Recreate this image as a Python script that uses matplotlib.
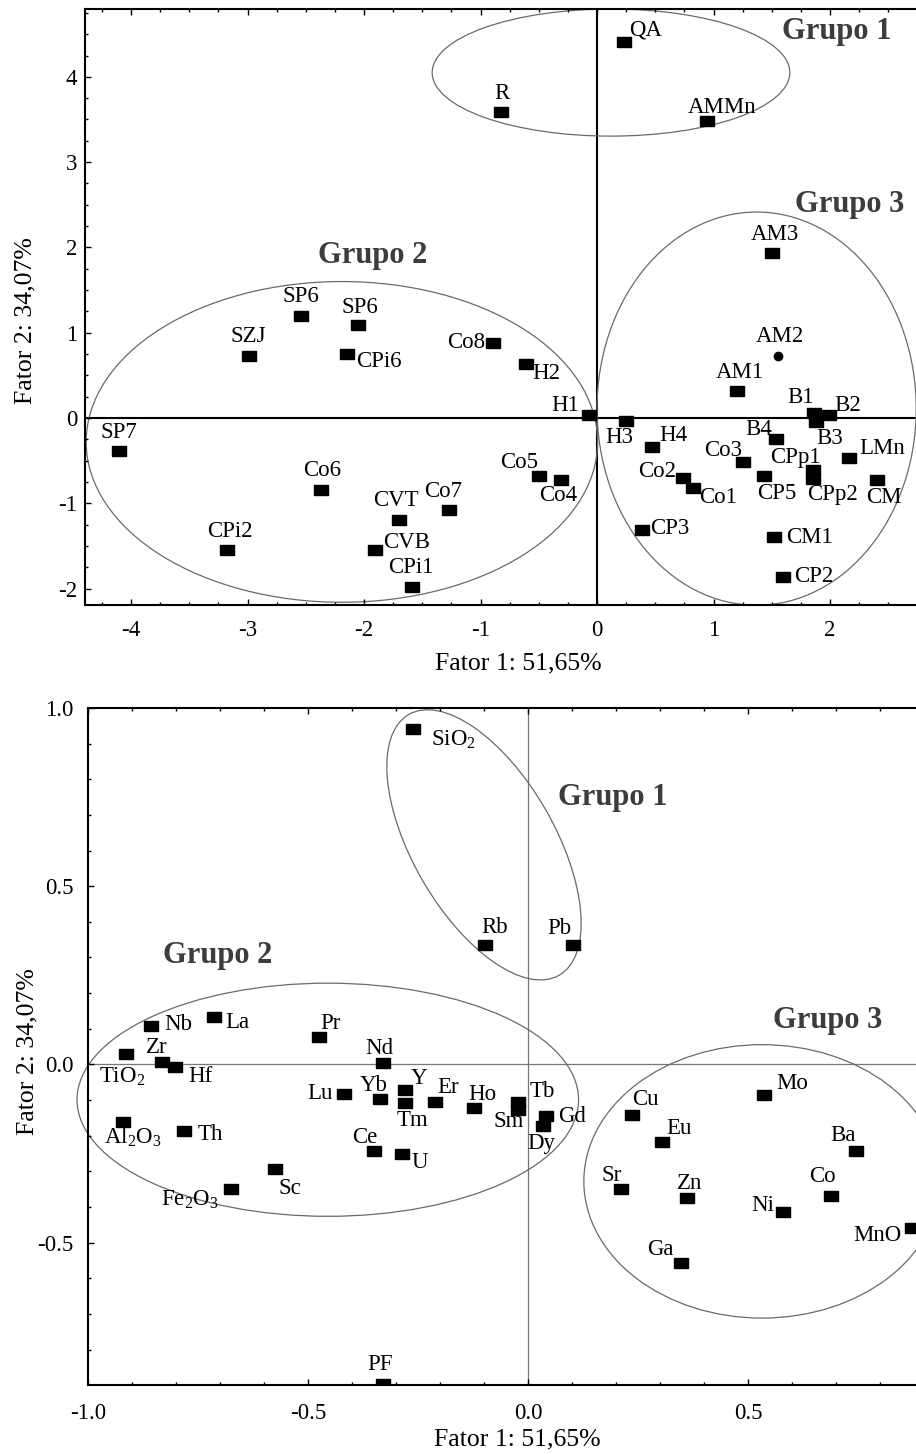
import numpy as np
import matplotlib
matplotlib.use('Agg')
import matplotlib.pyplot as plt
from matplotlib.patches import Ellipse
from matplotlib.path import Path
from matplotlib.ticker import MultipleLocator, FormatStrFormatter
from matplotlib.transforms import ScaledTranslation

plt.rcParams['font.family'] = ['Liberation Serif', 'DejaVu Serif']
plt.rcParams['mathtext.fontset'] = 'custom'
plt.rcParams['mathtext.rm'] = 'Liberation Serif'
plt.rcParams['axes.unicode_minus'] = False

# ---- samples (scores) ----
samp_names = ['QA', 'R', 'AMMn', 'AM3', 'SP6', 'SP6', 'SZJ', 'CPi6', 'Co8', 'H2',
              'AM1', 'H1', 'B1', 'B2', 'SP7', 'H3', 'H4', 'B4', 'B3', 'LMn',
              'Co3', 'CPp1', 'Co2', 'Co5', 'Co4', 'Co6', 'CVT', 'Co7', 'Co1', 'CP5',
              'CPp2', 'CM', 'CPi2', 'CVB', 'CP3', 'CM1', 'CPi1', 'CP2']
samp_f1 = [0.23, -0.82, 0.94, 1.50, -2.54, -2.05, -2.99, -2.15, -0.89, -0.61,
           1.20, -0.07, 1.86, 1.99, -4.10, 0.25, 0.47, 1.54, 1.88, 2.16,
           1.25, 1.85, 0.74, -0.50, -0.31, -2.37, -1.70, -1.27, 0.82, 1.43,
           1.85, 2.40, -3.18, -1.91, 0.39, 1.52, -1.59, 1.60]
samp_f2 = [4.41, 3.59, 3.48, 1.93, 1.20, 1.09, 0.73, 0.75, 0.88, 0.63,
           0.32, 0.04, 0.06, 0.04, -0.39, -0.04, -0.34, -0.25, -0.05, -0.47,
           -0.52, -0.61, -0.70, -0.68, -0.73, -0.84, -1.20, -1.08, -0.82, -0.68,
           -0.72, -0.73, -1.55, -1.55, -1.31, -1.40, -1.98, -1.86]
# sample shown with a round symbol
am2_f1 = [1.55]
am2_f2 = [0.73]

# ---- variables (loadings) ----
var_names = ['SiO$_2$', 'Rb', 'Pb', 'Nb', 'La', 'Zr', 'TiO$_2$', 'Hf', 'Al$_2$O$_3$', 'Th',
             'Fe$_2$O$_3$', 'Sc', 'Pr', 'Nd', 'Lu', 'Yb', 'Y', 'Tm', 'Er', 'Ce',
             'U', 'PF', 'Ho', 'Tb', 'Sm', 'Gd', 'Dy', 'Cu', 'Eu', 'Sr',
             'Zn', 'Ga', 'Mo', 'Ba', 'Co', 'Ni', 'MnO']
var_f1 = [-0.261, -0.098, 0.102, -0.857, -0.714, -0.832, -0.914, -0.802, -0.920, -0.782,
          -0.675, -0.575, -0.475, -0.330, -0.418, -0.336, -0.280, -0.280, -0.211, -0.350,
          -0.286, -0.330, -0.123, -0.023, -0.023, 0.041, 0.034, 0.236, 0.305, 0.211,
          0.361, 0.348, 0.536, 0.745, 0.689, 0.580, 0.873]
var_f2 = [0.941, 0.336, 0.336, 0.109, 0.134, 0.008, 0.028, -0.006, -0.162, -0.188,
          -0.350, -0.294, 0.076, 0.003, -0.084, -0.098, -0.073, -0.109, -0.106, -0.244,
          -0.252, -0.896, -0.123, -0.104, -0.129, -0.146, -0.174, -0.143, -0.218, -0.350,
          -0.375, -0.557, -0.087, -0.244, -0.370, -0.415, -0.459]

# label placement (pixels from marker, y up)
samp_off = [(22, 12), (0, 18), (16, 14), (3, 19), (0, 19), (2, 18), (0, 19), (32, -7), (-27, 0), (20, -9),
            (3, 18), (-24, 9), (-13, 15), (19, 9), (0, 19), (-7, -16), (22, 12), (-18, 10), (14, -16), (34, 10),
            (-20, 12), (-17, 13), (-26, 6), (-20, 14), (-3, -15), (1, 19), (-3, 20), (-6, 19), (26, -10), (13, -17),
            (20, -15), (7, -17), (3, 19), (32, 8), (27, 1), (35, 0), (-1, 19), (30, 0)]
am2_off = (2, 19)
var_off = [(40, -11), (10, 17), (-13, 16), (27, 1), (24, -6), (-5, 14), (-4, -22), (25, -10), (10, -15), (26, -3),
           (-41, -10), (15, -19), (11, 14), (-3, 15), (-24, 1), (-7, 14), (14, 12), (8, -17), (13, 15), (-9, 14),
           (18, -8), (-3, 19), (9, 14), (24, 10), (-9, -11), (26, 0), (-2, -17), (14, 16), (17, 14), (-9, 14),
           (3, 15), (-21, 14), (28, 12), (-13, 16), (-9, 20), (-20, 7), (-35, -7)]

rect = Path([(-1, -0.78), (1, -0.78), (1, 0.78), (-1, 0.78), (-1, -0.78)])
lab_fs = 16.5
grp_kw = dict(fontsize=22, fontweight='bold', color='#3c3c3c', ha='center', va='center')
ell_kw = dict(fill=False, edgecolor='#6a6a6a', linewidth=0.9, clip_on=False)

fig = plt.figure(figsize=(9.16, 14.54), dpi=100)

# ================= top: scores =================
ax1 = fig.add_axes([0.0928, 0.5839, 0.9072, 0.4099])
ax1.set_xlim(-4.395, 2.738)
ax1.set_ylim(-2.192, 4.795)
ax1.axhline(0, color='black', lw=1.5, zorder=1)
ax1.axvline(0, color='black', lw=1.5, zorder=1)

ax1.add_patch(Ellipse((0.12, 4.05), 3.07, 1.49, **ell_kw))
ax1.add_patch(Ellipse((-2.19, -0.28), 4.39, 3.76, **ell_kw))
ax1.add_patch(Ellipse((1.37, 0.11), 2.74, 4.61, **ell_kw))

ax1.plot(samp_f1, samp_f2, ls='none', marker=rect, ms=10, color='black', zorder=3)
ax1.plot(am2_f1, am2_f2, ls='none', marker='o', ms=6, color='black', zorder=3)
for name, x, y, off in zip(samp_names, samp_f1, samp_f2, samp_off):
    ax1.annotate(name, (x, y), xytext=off, textcoords='offset pixels',
                 ha='center', va='center', fontsize=lab_fs)
ax1.annotate('AM2', (am2_f1[0], am2_f2[0]), xytext=am2_off, textcoords='offset pixels',
             ha='center', va='center', fontsize=lab_fs)

ax1.text(2.06, 4.53, 'Grupo 1', **grp_kw)
ax1.text(-1.93, 1.91, 'Grupo 2', **grp_kw)
ax1.text(2.17, 2.50, 'Grupo 3', **grp_kw)

ax1.xaxis.set_major_locator(MultipleLocator(1))
ax1.yaxis.set_major_locator(MultipleLocator(1))
ax1.xaxis.set_minor_locator(MultipleLocator(0.25))
ax1.yaxis.set_minor_locator(MultipleLocator(0.25))
ax1.xaxis.set_major_formatter(FormatStrFormatter('%d'))
ax1.yaxis.set_major_formatter(FormatStrFormatter('%d'))
ax1.tick_params(axis='x', which='major', pad=10.5)
ax1.tick_params(axis='y', which='major', pad=5.5)
ax1.set_xlabel('Fator 1: 51,65%', fontsize=18.5)
ax1.set_ylabel('Fator 2: 34,07%', fontsize=18.5)
ax1.xaxis.set_label_coords(0.521, -0.079)
ax1.yaxis.set_label_coords(-0.058, 0.4765)

# ================= bottom: loadings =================
ax2 = fig.add_axes([0.0961, 0.0475, 0.9039, 0.4656])
ax2.set_xlim(-1.0, 0.882)
ax2.set_ylim(-0.899, 1.0)
ax2.axhline(0, color='#777777', lw=0.9, zorder=1)
ax2.axvline(0, color='#777777', lw=0.9, zorder=1)

# tilted ellipse sized in inches around a data-space centre
ax2.add_patch(Ellipse((0, 0), 3.01, 1.42, angle=-60,
                      transform=fig.dpi_scale_trans + ScaledTranslation(-0.10, 0.616, ax2.transData),
                      **ell_kw))
ax2.add_patch(Ellipse((-0.455, -0.099), 1.14, 0.654, **ell_kw))
ax2.add_patch(Ellipse((0.532, -0.328), 0.81, 0.767, **ell_kw))

ax2.plot(var_f1, var_f2, ls='none', marker=rect, ms=10, color='black', zorder=3)
for name, x, y, off in zip(var_names, var_f1, var_f2, var_off):
    ax2.annotate(name, (x, y), xytext=off, textcoords='offset pixels',
                 ha='center', va='center', fontsize=lab_fs)

ax2.text(0.193, 0.748, 'Grupo 1', **grp_kw)
ax2.text(-0.705, 0.305, 'Grupo 2', **grp_kw)
ax2.text(0.68, 0.123, 'Grupo 3', **grp_kw)

ax2.xaxis.set_major_locator(MultipleLocator(0.5))
ax2.yaxis.set_major_locator(MultipleLocator(0.5))
ax2.xaxis.set_minor_locator(MultipleLocator(0.1))
ax2.yaxis.set_minor_locator(MultipleLocator(0.1))
ax2.xaxis.set_major_formatter(FormatStrFormatter('%.1f'))
ax2.yaxis.set_major_formatter(FormatStrFormatter('%.1f'))
ax2.tick_params(axis='x', which='major', pad=13)
ax2.tick_params(axis='y', which='major', pad=10.5)
ax2.set_xlabel('Fator 1: 51,65%', fontsize=18.5)
ax2.set_ylabel('Fator 2: 34,07%', fontsize=18.5)
ax2.xaxis.set_label_coords(0.518, -0.064)
ax2.yaxis.set_label_coords(-0.060, 0.493)

for ax in (ax1, ax2):
    ax.spines['right'].set_visible(False)
    for s in ('left', 'top', 'bottom'):
        ax.spines[s].set_linewidth(1.5)
    ax.tick_params(which='both', direction='in', top=True, right=False,
                   labelsize=16.5, width=1.0)
    ax.tick_params(which='major', length=4.5)
    ax.tick_params(which='minor', length=2.5)

fig.savefig('out.png', dpi=100)
